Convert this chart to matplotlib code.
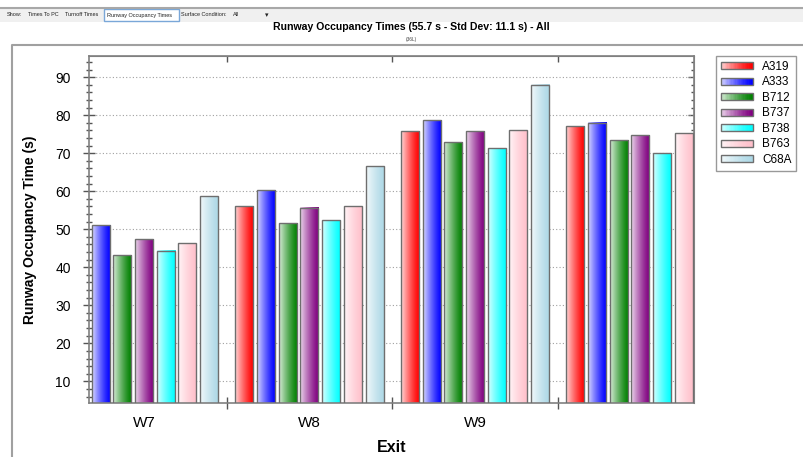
import matplotlib
matplotlib.use("Agg")
import matplotlib.pyplot as plt
import numpy as np
from matplotlib.colors import to_rgb
from matplotlib.legend_handler import HandlerBase
from matplotlib.lines import Line2D
from matplotlib.patches import Patch, Rectangle
from matplotlib.ticker import MultipleLocator

plt.rcParams['font.family'] = ['Liberation Sans', 'DejaVu Sans']

TITLE = 'Runway Occupancy Times (55.7 s - Std Dev: 11.1 s) - All'
SUBTITLE = '(36L)'
EXITS = ['W7', 'W8', 'W9', '']
AIRCRAFT = ['A319', 'A333', 'B712', 'B737', 'B738', 'B763', 'C68A']
COLORS = ['#ff0000', '#0000ff', '#008000', '#800080', '#00ffff', '#ffc0cb', '#add8e6']

# seconds per exit; nan = no bar in view
A319 = [np.nan, 56.0, 75.8, 77.1]
A333 = [51.1, 60.4, 78.8, 78.1]
B712 = [43.3, 51.7, 72.9, 73.5]
B737 = [47.5, 55.7, 75.8, 74.7]
B738 = [44.4, 52.5, 71.3, 70.0]
B763 = [46.3, 56.0, 76.0, 75.3]
C68A = [58.7, 66.7, 88.1, np.nan]
SERIES = [A319, A333, B712, B737, B738, B763, C68A]

W, H = 804, 457
PITCH = 0.1311
WIDTH = 0.1088
EDGE = '#6e6e6e'


def shade(color, t):
    c = np.array(to_rgb(color))
    w = 0.85 * (1 - t) ** 1.3
    return c * (1 - w) + w


def gradient(color, n=64):
    t = np.linspace(0, 1, n)
    return np.array([[shade(color, v) for v in t]])


class GradientHandler(HandlerBase):
    def create_artists(self, legend, orig_handle, xdescent, ydescent,
                       width, height, fontsize, trans):
        color = orig_handle.get_facecolor()
        n = 24
        h = height * 0.85
        y0 = -ydescent + (height - h) / 2
        arts = []
        for i in range(n):
            r = Rectangle((-xdescent + width * i / n, y0), width / n * 1.05, h,
                          facecolor=shade(color, (i + 0.5) / n),
                          edgecolor='none', transform=trans)
            arts.append(r)
        arts.append(Rectangle((-xdescent, y0), width, h, fill=False,
                              edgecolor=EDGE, lw=1, transform=trans))
        return arts


def main():
    fig = plt.figure(figsize=(W / 100, H / 100), dpi=100)

    # toolbar strip
    fig.add_artist(Rectangle((0, 1 - 22 / H), 1, 15 / H, transform=fig.transFigure,
                             facecolor='#f0f0f0', edgecolor='none'))
    fig.add_artist(Line2D([0, 1], [1 - 7.5 / H] * 2, transform=fig.transFigure,
                          color='#a8a8a8', lw=1.5))
    ty = 1 - 15 / H
    tb = dict(fontsize=4.0, va='center', color='#222222')
    fig.text(7 / W, ty, 'Show:', **tb)
    fig.text(28 / W, ty, 'Times To PC', **tb)
    fig.text(65 / W, ty, 'Turnoff Times', **tb)
    fig.add_artist(Rectangle((104 / W, 1 - 21 / H), 75 / W, 12 / H,
                             transform=fig.transFigure, facecolor='white',
                             edgecolor='#7aa7d8', lw=1))
    fig.text(107 / W, ty, 'Runway Occupancy Times', **tb)
    fig.text(181 / W, ty, 'Surface Condition:', **tb)
    fig.text(233 / W, ty, 'All', **tb)
    fig.text(265 / W, ty, '▾', fontsize=5, va='center', color='#222222',
             family=['DejaVu Sans'])

    # outer frame
    fig.add_artist(Line2D([12 / W, 12 / W, 1], [0, 1 - 45 / H, 1 - 45 / H],
                          transform=fig.transFigure, color='#a0a0a0', lw=1.5))

    fig.text(411 / W, 1 - 27.5 / H, TITLE, ha='center', va='center',
             fontsize=7.6, fontweight='bold')
    fig.text(411 / W, 1 - 39 / H, SUBTITLE, ha='center', va='center',
             fontsize=3.5, color='#444444')

    left, right, top, bottom = 89.3, 694, 56, 402.7
    ax = fig.add_axes([left / W, 1 - bottom / H, (right - left) / W, (bottom - top) / H])

    x = np.arange(len(EXITS))
    for i, (vals, col) in enumerate(zip(SERIES, COLORS)):
        bars = ax.bar(x + (i - 3) * PITCH, vals, WIDTH, facecolor='none',
                      edgecolor=EDGE, lw=1, zorder=3)
        for rect in bars:
            h = rect.get_height()
            if not np.isfinite(h):
                continue
            x0 = rect.get_x()
            ax.imshow(gradient(col), extent=[x0, x0 + rect.get_width(), 0, h],
                      aspect='auto', zorder=2, interpolation='bilinear')

    ax.set_xlim(-0.330, 3.3236)
    ax.set_ylim(4.37, 95.6)
    ax.set_aspect('auto')

    ax.set_yticks(np.arange(10, 100, 10))
    ax.yaxis.set_minor_locator(MultipleLocator(2))
    ax.yaxis.grid(True, linestyle=(0, (1, 2)), color='#a0a0a0', lw=0.8)
    ax.set_axisbelow(True)
    ax.tick_params(axis='y', which='major', direction='inout', length=8,
                   width=1, color='#555555', labelsize=10, pad=9.4)
    ax.tick_params(axis='y', which='minor', direction='inout', length=4.5,
                   width=1, color='#555555')

    ax.set_xticks([0.5, 1.5, 2.5])
    ax.set_xticklabels([])
    ax.set_xticks(x, minor=True)
    ax.set_xticklabels(EXITS, minor=True)
    ax.tick_params(axis='x', which='major', direction='inout', length=8,
                   width=1, color='#555555')
    ax.tick_params(axis='x', which='minor', length=0, labelsize=11, pad=9.4)

    for s in ax.spines.values():
        s.set_color('#808080')
        s.set_linewidth(1.2)

    sec_y = ax.secondary_yaxis('right')
    sec_y.set_yticks(np.arange(10, 100, 10))
    sec_y.yaxis.set_minor_locator(MultipleLocator(2))
    sec_y.tick_params(which='major', direction='in', length=4, width=1,
                      color='#555555', labelright=False)
    sec_y.tick_params(which='minor', direction='in', length=2, width=1,
                      color='#555555')
    sec_y.spines['right'].set_color('#808080')

    sec_x = ax.secondary_xaxis('top')
    sec_x.set_xticks([0.5, 1.5, 2.5])
    sec_x.tick_params(direction='in', length=4, width=1, color='#555555',
                      labeltop=False)
    sec_x.spines['top'].set_color('#808080')

    ax.set_ylabel('Runway Occupancy Time (s)', fontsize=10, fontweight='bold')
    ax.yaxis.set_label_coords((30 - left) / (right - left), (bottom - 230) / (bottom - top))
    ax.yaxis.label.set_va('center')
    ax.set_xlabel('Exit', fontsize=11.5, fontweight='bold')
    ax.xaxis.set_label_coords(0.5, (bottom - 447.7) / (bottom - top))
    ax.xaxis.label.set_va('center')

    handles = [Patch(facecolor=c, label=a) for a, c in zip(AIRCRAFT, COLORS)]
    leg = fig.legend(handles=handles, loc='upper left',
                     bbox_to_anchor=(716 / W, 1 - 56 / H),
                     handler_map={Patch: GradientHandler()}, fontsize=8.5,
                     frameon=True, fancybox=False, edgecolor='#808080',
                     handlelength=2.7, handletextpad=0.8, labelspacing=0.3,
                     borderpad=0.4, borderaxespad=0)
    leg.get_frame().set_linewidth(1.0)

    fig.savefig('out.png', dpi=100)


if __name__ == '__main__':
    main()
